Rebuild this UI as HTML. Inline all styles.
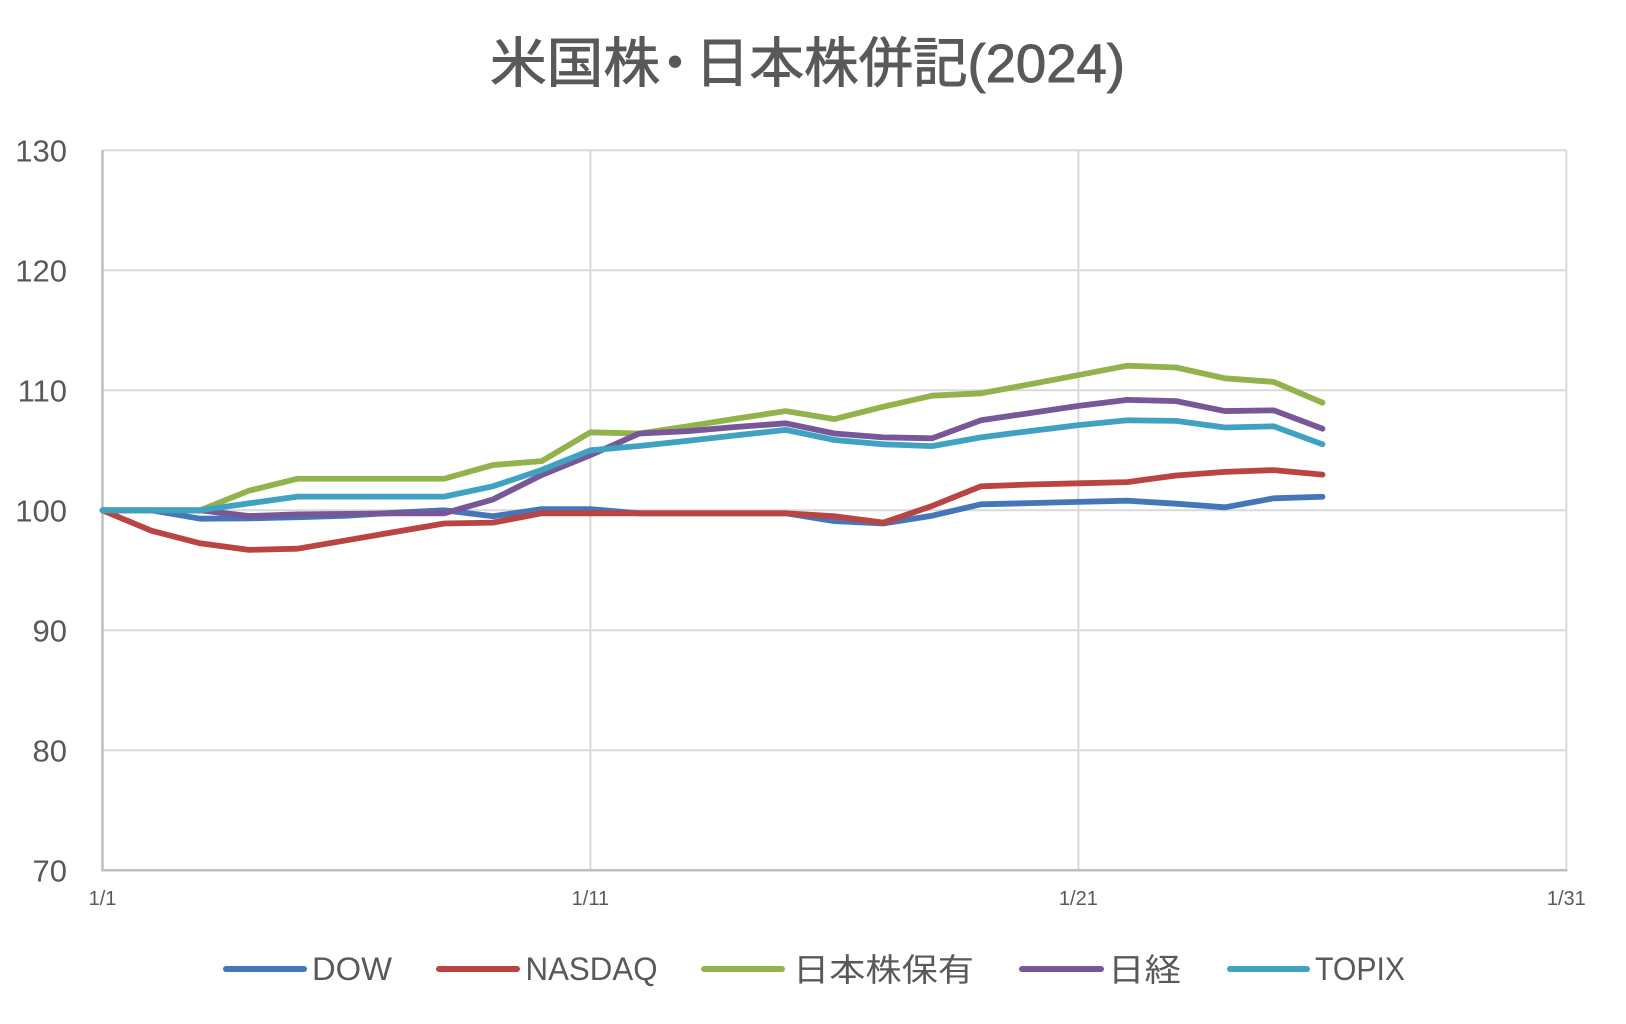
<!DOCTYPE html>
<html><head><meta charset="utf-8"><style>
html,body{margin:0;padding:0;background:#fff;}
svg{display:block;}
text{font-family:"Liberation Sans","Noto Sans CJK JP",sans-serif;fill:#595959;}
</style></head><body>
<svg width="1626" height="1024" viewBox="0 0 1626 1024" xmlns="http://www.w3.org/2000/svg">
<rect width="1626" height="1024" fill="#fff"/>
<g font-size="54" stroke="#595959" stroke-width="0.9">
<text x="490" y="82" textLength="170" lengthAdjust="spacingAndGlyphs">米国株</text>
<text x="675" y="82" text-anchor="middle">・</text>
<text x="695" y="82" textLength="430" lengthAdjust="spacingAndGlyphs">日本株併記(2024)</text>
</g>
<g stroke="#d9d9d9" stroke-width="2">
<line x1="102.5" y1="150.3" x2="1566.3" y2="150.3"/>
<line x1="102.5" y1="270.3" x2="1566.3" y2="270.3"/>
<line x1="102.5" y1="390.3" x2="1566.3" y2="390.3"/>
<line x1="102.5" y1="510.3" x2="1566.3" y2="510.3"/>
<line x1="102.5" y1="630.3" x2="1566.3" y2="630.3"/>
<line x1="102.5" y1="750.3" x2="1566.3" y2="750.3"/>
<line x1="590.4" y1="150.3" x2="590.4" y2="870.3"/>
<line x1="1078.4" y1="150.3" x2="1078.4" y2="870.3"/>
<line x1="1566.3" y1="150.3" x2="1566.3" y2="870.3"/>
</g>
<g stroke="#bfbfbf" stroke-width="2.5">
<line x1="102.5" y1="150" x2="102.5" y2="871.5"/>
<line x1="101.3" y1="870.3" x2="1567.5" y2="870.3"/>
</g>
<g font-size="31" text-anchor="end">
<text x="67" y="161.6">130</text>
<text x="67" y="281.6">120</text>
<text x="67" y="401.6">110</text>
<text x="67" y="521.6">100</text>
<text x="67" y="641.6">90</text>
<text x="67" y="761.6">80</text>
<text x="67" y="881.6">70</text>
</g>
<g font-size="20" text-anchor="middle">
<text x="102.5" y="905">1/1</text>
<text x="590.4" y="905">1/11</text>
<text x="1078.4" y="905">1/21</text>
<text x="1566.3" y="905">1/31</text>
</g>
<g transform="matrix(48.8 0 0 -12 102.5 1710.3)" fill="none" stroke-width="5.8" stroke-linejoin="round" stroke-linecap="round">
<polyline vector-effect="non-scaling-stroke" stroke="#4576B8" points="0,100 1,100 2,99.3 3,99.33 4,99.42 5,99.55 6,99.8 7,100 8,99.5 9,100.1 10,100.1 11,99.75 12,99.75 13,99.75 14,99.75 15,99.1 16,98.9 17,99.55 18,100.5 19,100.6 20,100.7 21,100.8 22,100.55 23,100.25 24,101.0 25,101.13"/>
<polyline vector-effect="non-scaling-stroke" stroke="#B94441" points="0,100 1,98.3 2,97.25 3,96.7 4,96.8 5,97.5 6,98.2 7,98.9 8,98.97 9,99.75 10,99.75 11,99.75 12,99.75 13,99.75 14,99.75 15,99.5 16,98.97 17,100.36 18,102.0 19,102.15 20,102.25 21,102.35 22,102.9 23,103.2 24,103.35 25,102.97"/>
<polyline vector-effect="non-scaling-stroke" stroke="#92B34C" points="0,100 1,100 2,100 3,101.63 4,102.63 5,102.63 6,102.63 7,102.63 8,103.77 9,104.1 10,106.5 11,106.4 12,107.0 13,107.65 14,108.27 15,107.6 16,108.63 17,109.55 18,109.75 19,110.5 20,111.27 21,112.05 22,111.9 23,111.0 24,110.7 25,108.97"/>
<polyline vector-effect="non-scaling-stroke" stroke="#775797" points="0,100 1,100 2,100 3,99.52 4,99.66 5,99.7 6,99.75 7,99.75 8,100.9 9,102.94 10,104.6 11,106.4 12,106.6 13,106.95 14,107.25 15,106.4 16,106.08 17,106.0 18,107.5 19,108.1 20,108.7 21,109.2 22,109.1 23,108.27 24,108.33 25,106.8"/>
<polyline vector-effect="non-scaling-stroke" stroke="#40A2C1" points="0,100 1,100 2,100 3,100.58 4,101.14 5,101.14 6,101.14 7,101.14 8,102.0 9,103.36 10,105.0 11,105.36 12,105.8 13,106.25 14,106.7 15,105.86 16,105.5 17,105.35 18,106.08 19,106.6 20,107.1 21,107.5 22,107.45 23,106.9 24,107.0 25,105.5"/>
</g>
<g stroke-width="6" stroke-linecap="round">
<line x1="226" y1="969" x2="304" y2="969" stroke="#4576B8"/>
<line x1="439" y1="969" x2="517" y2="969" stroke="#B94441"/>
<line x1="704" y1="969" x2="782" y2="969" stroke="#92B34C"/>
<line x1="1022" y1="969" x2="1101" y2="969" stroke="#775797"/>
<line x1="1230" y1="969" x2="1307" y2="969" stroke="#40A2C1"/>
</g>
<g font-size="32">
<text x="312" y="980" textLength="80" lengthAdjust="spacingAndGlyphs">DOW</text>
<text x="525.5" y="980" textLength="132" lengthAdjust="spacingAndGlyphs">NASDAQ</text>
<text x="793" y="981" textLength="181" lengthAdjust="spacingAndGlyphs">日本株保有</text>
<text x="1108" y="981" textLength="73" lengthAdjust="spacingAndGlyphs">日経</text>
<text x="1315" y="980" textLength="90" lengthAdjust="spacingAndGlyphs">TOPIX</text>
</g>
</svg>
</body></html>
